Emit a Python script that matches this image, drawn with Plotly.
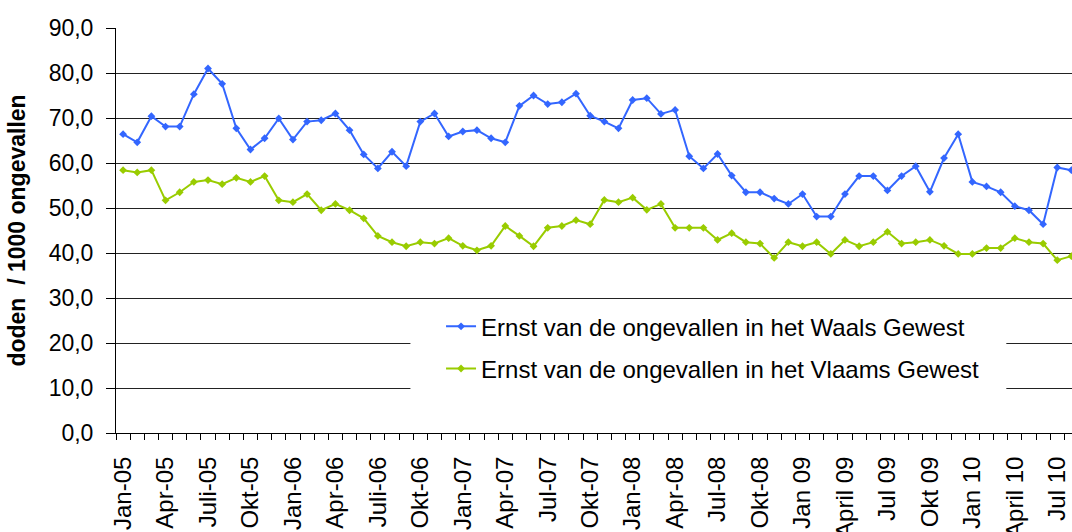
import plotly.graph_objects as go

# monthly values, Jan 2005 .. Aug 2010 (doden per 1000 ongevallen)
waals = [
    66.4, 64.6, 70.4, 68.1, 68.1, 75.3, 81.0, 77.6, 67.7, 63.0, 65.5, 69.9,
    65.2, 69.2, 69.5, 71.0, 67.3, 61.9, 58.8, 62.5, 59.3, 69.2, 71.0, 65.9,
    67.0, 67.3, 65.5, 64.6, 72.7, 75.0, 73.1, 73.5, 75.4, 70.5, 69.2, 67.7,
    74.0, 74.4, 70.9, 71.8, 61.5, 58.8, 62.0, 57.2, 53.5, 53.5, 52.1, 50.9,
    53.1, 48.1, 48.1, 53.1, 57.1, 57.1, 53.9, 57.1, 59.3, 53.6, 61.1, 66.4,
    55.8, 54.8, 53.5, 50.4, 49.5, 46.4, 59.0, 58.4,
]
vlaams = [
    58.4, 57.9, 58.4, 51.7, 53.5, 55.8, 56.2, 55.3, 56.7, 55.8, 57.1, 51.7,
    51.3, 53.1, 49.5, 50.9, 49.5, 47.7, 43.8, 42.4, 41.5, 42.4, 42.1, 43.3,
    41.6, 40.6, 41.6, 46.0, 43.8, 41.5, 45.6, 46.0, 47.3, 46.4, 51.8, 51.3,
    52.3, 49.6, 50.9, 45.6, 45.6, 45.6, 42.9, 44.4, 42.4, 42.1, 38.9, 42.4,
    41.5, 42.4, 39.8, 42.9, 41.5, 42.4, 44.7, 42.1, 42.4, 42.9, 41.6, 39.8,
    39.8, 41.1, 41.1, 43.3, 42.4, 42.1, 38.4, 39.3,
]
# one label every third month
tick_labels = [
    "Jan-05", "Apr-05", "Juli-05", "Okt-05", "Jan-06", "Apr-06", "Juli-06",
    "Okt-06", "Jan-07", "Apr-07", "Jul-07", "Okt-07", "Jan-08", "Apr-08",
    "Jul-08", "Okt-08", "Jan 09", "April 09", "Jul 09", "Okt 09", "Jan 10",
    "April 10", "Jul 10",
]

months = list(range(len(waals)))
FONT = "Liberation Sans, Arial, sans-serif"

fig = go.Figure()
fig.add_trace(go.Scatter(
    x=months, y=waals,
    mode="lines+markers",
    name="Ernst van de ongevallen in het Waals Gewest",
    legendgroup="w",
    line=dict(color="#3366ff", width=2),
    marker=dict(symbol="diamond", size=6, color="#3366ff"),
))
fig.add_trace(go.Scatter(
    x=months, y=vlaams,
    mode="lines+markers",
    name="Ernst van de ongevallen in het Vlaams Gewest",
    legendgroup="v",
    line=dict(color="#99cc00", width=2),
    marker=dict(symbol="diamond", size=6, color="#99cc00"),
))

# white box behind the legend, hides the gridlines there
fig.add_shape(
    type="rect", xref="x", yref="y",
    x0=20.3, x1=62.4, y0=7.0, y1=29.2,
    fillcolor="white", line=dict(width=0), layer="between",
)

fig.update_layout(
    width=1072, height=532,
    margin=dict(l=116, r=0, t=28, b=99),
    paper_bgcolor="white", plot_bgcolor="white",
    separators=",.",
    font=dict(family=FONT, size=23, color="black"),
    showlegend=True,
    legend=dict(
        x=0.340, y=0.318, xanchor="left", yanchor="top",
        bgcolor="rgba(0,0,0,0)", tracegroupgap=8,
        font=dict(size=24),
    ),
    xaxis=dict(
        range=[-0.5, 67.04],
        tickmode="array",
        tickvals=months[::3],
        ticktext=tick_labels,
        tickangle=-90,
        ticks="", ticklabelstandoff=13,
        tickfont=dict(size=24),
        minor=dict(tickmode="linear", tick0=-0.5, dtick=1, ticks="outside",
                   ticklen=6, tickcolor="black", showgrid=False),
        showgrid=False, zeroline=False, automargin=False,
        showline=True, linecolor="black", linewidth=1,
    ),
    yaxis=dict(
        range=[0, 90],
        dtick=10, tickformat=".1f",
        ticks="outside", ticklen=9, tickcolor="black",
        ticklabelstandoff=8,
        tickfont=dict(size=23),
        showgrid=True, gridcolor="#222222", gridwidth=1.3,
        zeroline=False, automargin=False,
        showline=True, linecolor="black", linewidth=1,
        title=dict(text="<b>doden  / 1000 ongevallen</b>",
                   font=dict(size=23), standoff=16),
    ),
)

# drop the browser's default body margin so the figure fills the window
fig.write_html(
    "out.html",
    config={"displayModeBar": False},
    post_script="document.body.style.margin = '0';",
)
